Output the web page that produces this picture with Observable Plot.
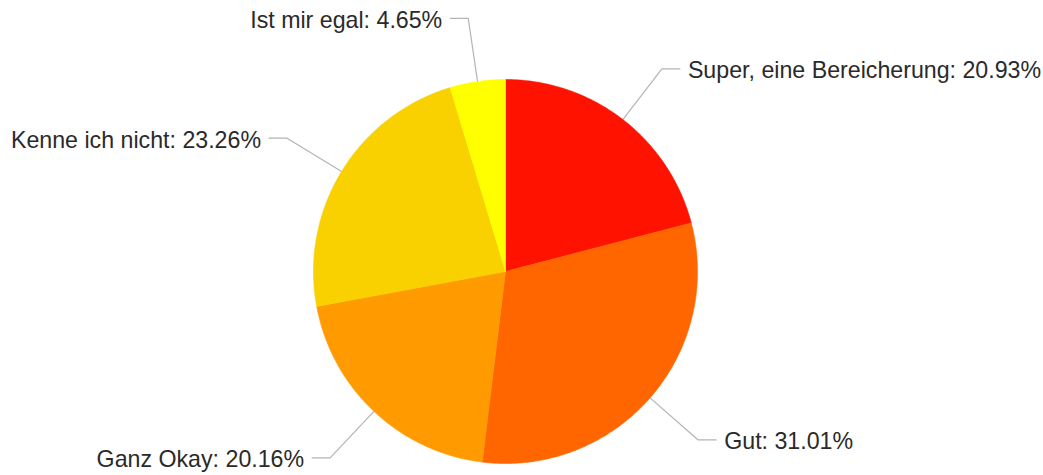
<!DOCTYPE html>
<html>
<head>
<meta charset="utf-8">
<script src="https://cdn.jsdelivr.net/npm/d3@7"></script>
<script src="https://cdn.jsdelivr.net/npm/@observablehq/plot@0.6"></script>
<style>
  html, body { margin: 0; padding: 0; background: #fff; }
  #chart svg { display: block; }
</style>
</head>
<body>
<div id="chart"></div>
<script>
// ---- data ----
const categories = ["Super, eine Bereicherung", "Gut", "Ganz Okay", "Kenne ich nicht", "Ist mir egal"];
const values = [20.93, 31.01, 20.16, 23.26, 4.65];
const valueLabels = ["20.93%", "31.01%", "20.16%", "23.26%", "4.65%"];
const colors = ["#ff1200", "#ff6600", "#ff9a00", "#f9d000", "#ffff00"];

// ---- layout (unit: pie radius) ----
const W = 1043, H = 475;
const R = 192, CX = 505, CY = 271;
const elbowR = 1.333, hLen = 18 / R, gap = 8 / R;

const pie = d3.pie().sort(null).value(d => d.value).startAngle(0).endAngle(2 * Math.PI);
const rows = categories.map((c, i) => ({cat: c, value: values[i], label: `${c}: ${valueLabels[i]}`}));
const arcs = pie(rows);

// slice polygons (sampled arcs)
const slicePts = [];
for (const a of arcs) {
  const cat = a.data.cat;
  slicePts.push({cat, x: 0, y: 0});
  const n = Math.max(8, Math.ceil((a.endAngle - a.startAngle) / 0.01));
  for (let k = 0; k <= n; k++) {
    const t = a.startAngle + (a.endAngle - a.startAngle) * k / n;
    slicePts.push({cat, x: Math.sin(t), y: Math.cos(t)});
  }
  slicePts.push({cat, x: 0, y: 0});
}

// leader lines and labels
const leaderPts = [];
const labels = [];
for (const a of arcs) {
  const m = (a.startAngle + a.endAngle) / 2;
  const sx = Math.sin(m), sy = Math.cos(m);
  const side = sx >= 0 ? 1 : -1;
  const ex = sx * elbowR, ey = sy * elbowR;
  leaderPts.push({cat: a.data.cat, x: sx, y: sy});
  leaderPts.push({cat: a.data.cat, x: ex, y: ey});
  leaderPts.push({cat: a.data.cat, x: ex + side * hLen, y: ey});
  labels.push({label: a.data.label, side, x: ex + side * (hLen + gap), y: ey});
}

const chart = Plot.plot({
  width: W,
  height: H,
  margin: 0,
  x: {domain: [-CX / R, (W - CX) / R], axis: null},
  y: {domain: [-(H - CY) / R, CY / R], axis: null},
  color: {domain: categories, range: colors},
  style: {fontFamily: "'Liberation Sans', Arial, Helvetica, sans-serif", background: "#fff"},
  marks: [
    Plot.line(leaderPts, {x: "x", y: "y", z: "cat", stroke: "#b4b4b4", strokeWidth: 1.2, curve: "linear"}),
    Plot.line(slicePts, {x: "x", y: "y", z: "cat", fill: "cat", stroke: "cat", strokeWidth: 0.6, curve: "linear"}),
    Plot.text(labels.filter(d => d.side > 0), {x: "x", y: "y", text: "label", textAnchor: "start", lineAnchor: "middle", dy: 2, fontSize: 23.2, fill: "#2a2a2a"}),
    Plot.text(labels.filter(d => d.side < 0), {x: "x", y: "y", text: "label", textAnchor: "end", lineAnchor: "middle", dy: 2, fontSize: 23.2, fill: "#2a2a2a"})
  ]
});
document.getElementById("chart").appendChild(chart);
</script>
</body>
</html>
